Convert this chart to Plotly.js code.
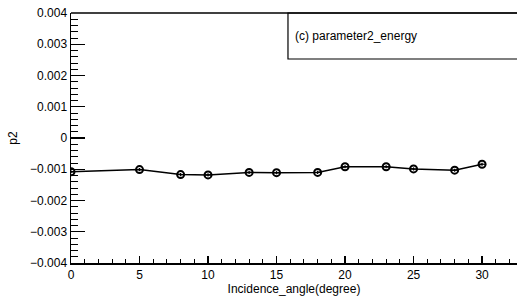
<!DOCTYPE html>
<html><head><meta charset="utf-8">
<script src="https://cdn.plot.ly/plotly-3.0.1.min.js"></script>
<style>html,body{margin:0;padding:0;background:#fff}#c{width:517px;height:303px}</style>
</head><body><div id="c"></div>
<script>
const angles = [0, 5, 8, 10, 13, 15, 18, 20, 23, 25, 28, 30];
const p2 = [-0.00108, -0.00101, -0.00117, -0.00118, -0.00110, -0.00111, -0.00110, -0.00092, -0.00092, -0.00099, -0.00103, -0.00084];
const p2err = [0.00005, 0.00005, 0.00005, 0.00005, 0.00005, 0.00005, 0.00005, 0.00005, 0.00005, 0.00005, 0.00005, 0.00005];
const yTickVals = [-0.004, -0.003, -0.002, -0.001, 0, 0.001, 0.002, 0.003, 0.004];
const yTickText = ['\u22120.004', '\u22120.003', '\u22120.002', '\u22120.001', '0', '0.001', '0.002', '0.003', '0.004'];
const xTickVals = [0, 5, 10, 15, 20, 25, 30];
const legendText = '(c) parameter2_energy';

const font = {family: 'Liberation Sans, Arial, sans-serif', size: 12, color: '#000'};
const trace = {
  x: angles, y: p2, type: 'scatter', mode: 'lines+markers',
  line: {color: '#000', width: 1.5},
  marker: {symbol: 'circle-open', size: 7, color: '#000', line: {width: 2, color: '#000'}},
  error_y: {type: 'data', array: p2err, visible: true, color: '#000', thickness: 1.2, width: 0},
  error_x: {type: 'constant', value: 0.3, visible: true, color: '#000', thickness: 1.2, width: 0},
  showlegend: false, hoverinfo: 'none'
};
const layout = {
  width: 517, height: 303,
  margin: {l: 71, r: 0, t: 13, b: 40, pad: 0},
  paper_bgcolor: '#fff', plot_bgcolor: '#fff',
  font: font,
  showlegend: false,
  xaxis: {
    range: [0, 32.55], showgrid: false, zeroline: false,
    showline: true, linecolor: '#000', linewidth: 1.5,
    ticks: 'inside', ticklen: 7, tickwidth: 1.2, tickcolor: '#000',
    tickvals: xTickVals, ticktext: xTickVals.map(String),
    minor: {ticks: 'inside', ticklen: 4, dtick: 1, tick0: 0, tickwidth: 1, tickcolor: '#000', showgrid: false},
    tickfont: font,
    title: {text: 'Incidence_angle(degree)', font: font, standoff: 3},
    automargin: false
  },
  yaxis: {
    range: [-0.004, 0.004], showgrid: false, zeroline: false,
    showline: true, linecolor: '#000', linewidth: 1.5,
    ticks: 'inside', ticklen: 14, tickwidth: 1.2, tickcolor: '#000',
    tickvals: yTickVals, ticktext: yTickText,
    minor: {ticks: 'inside', ticklen: 7, dtick: 0.0002, tick0: 0, tickwidth: 1, tickcolor: '#000', showgrid: false},
    tickfont: font,
    title: {text: 'p2', font: font, standoff: 10},
    automargin: false
  },
  shapes: [
    {type: 'line', xref: 'paper', yref: 'paper', x0: 0, x1: 1, y0: 1, y1: 1, line: {color: '#000', width: 1.5}},
    {type: 'rect', xref: 'paper', yref: 'paper', x0: 0.4865, x1: 1.02, y0: 0.816, y1: 1, line: {color: '#000', width: 1.2}, fillcolor: 'rgba(0,0,0,0)'}
  ],
  annotations: [
    {xref: 'paper', yref: 'paper', x: 0.498, y: 0.908, xanchor: 'left', yanchor: 'middle', text: legendText, showarrow: false, font: font}
  ]
};
Plotly.newPlot('c', [trace], layout, {staticPlot: true, displayModeBar: false});
</script></body></html>
